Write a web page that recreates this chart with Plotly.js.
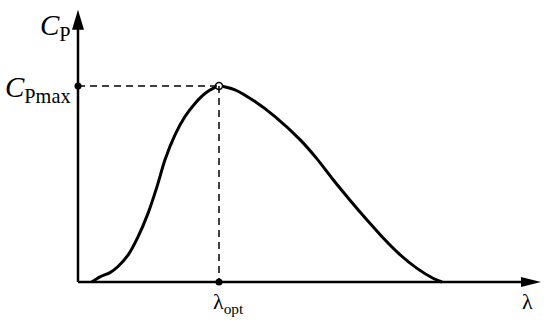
<!DOCTYPE html>
<html>
<head>
<meta charset="utf-8">
<script src="https://cdn.plot.ly/plotly-3.0.1.min.js"></script>
<style>
  html, body { margin: 0; padding: 0; background: #fff; }
  #plot { width: 550px; height: 325px; }
</style>
</head>
<body>
<div id="plot"></div>
<script>
// power coefficient curve
const lambda = [0.69, 1.1, 1.6, 2.0, 2.5, 3.0, 3.5, 3.95, 4.35, 4.85, 5.35, 5.85, 6.35, 6.85, 7.05,
    7.85, 8.85, 9.85, 11.1, 11.95, 12.75, 13.6, 14.45, 15.25, 16.1, 16.95, 17.75, 18.2];
const cp = [0.0, 0.011, 0.020, 0.033, 0.057, 0.096, 0.146, 0.203, 0.260, 0.313, 0.352, 0.380, 0.401, 0.414, 0.417,
    0.409, 0.384, 0.352, 0.303, 0.262, 0.218, 0.174, 0.132, 0.094, 0.058, 0.029, 0.008, 0.0];

const lambdaOpt = 7.05;
const cpMax = 0.417;

// axis arrow tips
const xTip = 23.15;
const yTip = 0.579;

const ink = "#000";
const serif = "Liberation Serif, Times New Roman, serif";

const traces = [
    {
        x: lambda,
        y: cp,
        type: "scatter",
        mode: "lines",
        line: { color: ink, width: 3, shape: "spline", smoothing: 0.8 },
        hoverinfo: "skip"
    },
    {
        x: [0, lambdaOpt],
        y: [cpMax, 0],
        type: "scatter",
        mode: "markers",
        marker: { color: ink, size: 7 },
        cliponaxis: false,
        hoverinfo: "skip"
    },
    {
        x: [lambdaOpt],
        y: [cpMax],
        type: "scatter",
        mode: "markers",
        marker: { color: "#fff", size: 7, line: { color: ink, width: 1.5 } },
        cliponaxis: false,
        hoverinfo: "skip"
    }
];

const shapes = [
    // axes
    { type: "line", x0: 0, y0: 0, x1: 0, y1: yTip - 0.02, line: { color: ink, width: 2.5 } },
    { type: "line", x0: 0, y0: 0, x1: xTip - 0.5, y1: 0, line: { color: ink, width: 2.5 } },
    {
        type: "path", xsizemode: "pixel", ysizemode: "pixel",
        xanchor: 0, yanchor: yTip,
        path: "M0,0 L-6,-20 L6,-20 Z",
        fillcolor: ink, line: { width: 0 }
    },
    {
        type: "path", xsizemode: "pixel", ysizemode: "pixel",
        xanchor: xTip, yanchor: 0,
        path: "M0,0 L-20,5 L-20,-5 Z",
        fillcolor: ink, line: { width: 0 }
    },
    // guide lines to the optimum
    { type: "line", x0: 0, y0: cpMax, x1: lambdaOpt, y1: cpMax, line: { color: ink, width: 1.5, dash: "7px,5px" } },
    { type: "line", x0: lambdaOpt, y0: cpMax, x1: lambdaOpt, y1: 0, line: { color: ink, width: 1.5, dash: "7px,5px" } }
];

const annotations = [
    {
        x: 0, y: yTip, xref: "x", yref: "y",
        text: "<i>C</i><sub>P</sub>",
        showarrow: false, xanchor: "right", yanchor: "middle",
        xshift: -5, yshift: -17,
        font: { family: serif, size: 29, color: ink }
    },
    {
        x: 0, y: cpMax, xref: "x", yref: "y",
        text: "<i>C</i><sub>Pmax</sub>",
        showarrow: false, xanchor: "right", yanchor: "middle",
        xshift: -5, yshift: -3,
        font: { family: serif, size: 29, color: ink }
    },
    {
        x: lambdaOpt, y: 0, xref: "x", yref: "y",
        text: "λ<sub>opt</sub>",
        showarrow: false, xanchor: "center", yanchor: "top",
        xshift: 9, yshift: -5,
        font: { family: serif, size: 22, color: ink }
    },
    {
        x: xTip, y: 0, xref: "x", yref: "y",
        text: "λ",
        showarrow: false, xanchor: "center", yanchor: "top",
        xshift: -14, yshift: -5,
        font: { family: serif, size: 22, color: ink }
    }
];

const layout = {
    width: 550,
    height: 325,
    margin: { l: 68, r: 0, t: 0, b: 33 },
    paper_bgcolor: "#fff",
    plot_bgcolor: "#fff",
    showlegend: false,
    xaxis: { range: [-0.5, 23.6], visible: false, fixedrange: true },
    yaxis: { range: [-0.0213, 0.6], visible: false, fixedrange: true },
    shapes: shapes,
    annotations: annotations
};

Plotly.newPlot("plot", traces, layout, { displayModeBar: false, staticPlot: true });
</script>
</body>
</html>
